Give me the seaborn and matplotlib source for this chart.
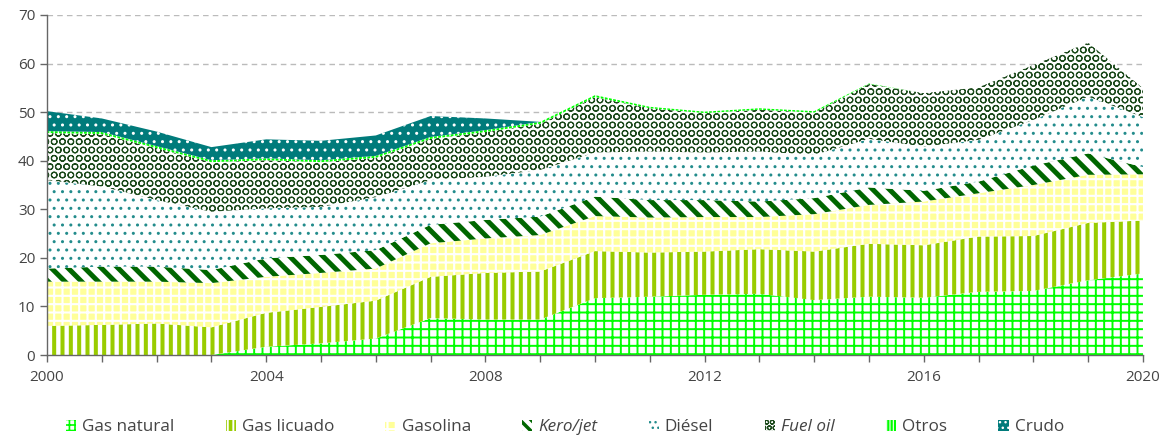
"""
Consumo por producto, 2000-2020: stacked area chart with pattern fills.
"""

import matplotlib.pyplot as plt
import numpy as np
import pandas as pd
import seaborn as sns
from matplotlib.ticker import MultipleLocator

years = list(range(2000, 2021))

gas_natural = [0.0, 0.0, 0.0, 0.0, 1.7, 2.4, 3.4, 7.6, 7.3, 7.3, 11.7,
               12.0, 12.4, 12.6, 11.3, 12.0, 11.8, 13.0, 13.2, 15.4, 16.8]
gas_licuado = [6.0, 6.2, 6.5, 5.7, 7.0, 7.5, 7.8, 8.5, 9.6, 9.9, 9.7,
               9.1, 8.9, 9.2, 10.0, 10.9, 10.8, 11.4, 11.3, 11.8, 10.9]
gasolina = [9.1, 8.9, 8.6, 9.1, 7.4, 7.0, 6.6, 6.9, 7.1, 7.5, 7.2,
            7.2, 7.1, 6.6, 7.7, 8.0, 9.0, 8.9, 10.5, 9.9, 9.5]
kero_jet = [2.7, 3.1, 3.1, 2.7, 3.8, 3.7, 3.8, 3.8, 3.8, 3.8, 4.0,
            3.6, 3.5, 3.2, 3.3, 3.6, 2.2, 2.4, 4.0, 4.4, 1.5]
diesel = [18.2, 16.5, 13.7, 12.0, 10.3, 9.9, 10.9, 9.2, 8.9, 9.6, 9.1,
          10.0, 9.8, 10.3, 8.9, 10.0, 9.1, 8.6, 9.4, 11.7, 10.3]
fuel_oil = [9.7, 10.8, 10.7, 10.2, 9.9, 9.2, 8.1, 8.5, 9.2, 9.5, 11.4,
            8.9, 8.1, 8.6, 8.7, 11.3, 11.0, 10.8, 11.3, 11.1, 5.9]
otros = [0.4, 0.4, 0.4, 0.4, 0.4, 0.4, 0.4, 0.4, 0.4, 0.4, 0.4,
         0.3, 0.3, 0.3, 0.3, 0.1, 0.0, 0.0, 0.0, 0.0, 0.0]
crudo = [4.1, 2.8, 3.0, 2.7, 3.9, 4.0, 4.2, 4.3, 2.4, 0.0, 0.0,
         0.0, 0.0, 0.0, 0.0, 0.0, 0.0, 0.0, 0.0, 0.0, 0.0]

labels = ["Gas natural", "Gas licuado", "Gasolina", "Kero/jet",
          "Diésel", "Fuel oil", "Otros", "Crudo"]

df = pd.DataFrame({
    "Gas natural": gas_natural,
    "Gas licuado": gas_licuado,
    "Gasolina": gasolina,
    "Kero/jet": kero_jet,
    "Diésel": diesel,
    "Fuel oil": fuel_oil,
    "Otros": otros,
    "Crudo": crudo,
}, index=years)

# face colour, hatch colour, hatch, hatch width, legend hatch, legend width
styles = {
    "Gas natural": ("white", "#00FF00", "++", 1.4, "+++", 1.2),
    "Gas licuado": ("white", "#99CC00", "||", 2.9, "|||", 2.6),
    "Gasolina": ("#FFFF99", "white", "++", 1.5, "++", 1.6),
    "Kero/jet": ("white", "#006600", "\\\\", 3.6, "\\\\\\", 2.5),
    "Diésel": ("white", "#238C8C", "..", 1.0, "...", 1.0),
    "Fuel oil": ("white", "#1C4A1C", "OO", 0.8, "OOO", 0.8),
    "Otros": ("white", "#00FF00", "||||", 2.0, "|||||", 1.6),
    "Crudo": ("#007B7B", "white", "..", 1.0, "...", 1.0),
}

sns.set_theme(style="white")
plt.rcParams["font.family"] = ["Open Sans", "DejaVu Sans"]

fig, ax = plt.subplots(figsize=(11.67, 4.41), dpi=100)
fig.subplots_adjust(left=0.0403, right=0.9794, top=0.966, bottom=0.195)

top = df.cumsum(axis=1)
handles = []
for name in labels:
    face, hcol, hatch, hlw = styles[name][:4]
    plt.rcParams["hatch.linewidth"] = hlw
    lower = top[name] - df[name]
    coll = ax.fill_between(df.index, lower, top[name], facecolor=face,
                           edgecolor=hcol, hatch=hatch, linewidth=0,
                           label=name)
    if hasattr(coll, "set_hatch_linewidth"):
        coll.set_hatch_linewidth(hlw)
    handles.append(coll)

ax.set_xlim(2000, 2020)
ax.set_ylim(0, 70)
ax.set_xticks(range(2000, 2021, 4))
ax.xaxis.set_minor_locator(MultipleLocator(1))
ax.set_yticks(range(0, 71, 10))
ax.yaxis.grid(True, linestyle=(0, (4, 3)), color="#BBBBBB", linewidth=1)
ax.set_axisbelow(True)

sns.despine(ax=ax)
for side in ("left", "bottom"):
    ax.spines[side].set_color("#666666")
    ax.spines[side].set_linewidth(1)

ax.tick_params(axis="both", which="both", direction="out", length=5,
               width=1, color="#666666", labelcolor="#444444",
               labelsize=11, bottom=True, left=True)
ax.tick_params(axis="x", pad=6)

leg = fig.legend(handles, labels, loc="center",
                 bbox_to_anchor=(0.484, 0.031), ncol=8, frameon=False,
                 handlelength=0.6, handleheight=0.6, handletextpad=0.35,
                 columnspacing=3.0, fontsize=12.3)
for name, patch, text in zip(labels, leg.legend_handles, leg.get_texts()):
    lhatch, llw = styles[name][4:]
    patch.set_hatch(lhatch)
    patch.set_linewidth(0)
    if hasattr(patch, "set_hatch_linewidth"):
        patch.set_hatch_linewidth(llw)
    text.set_color("#444444")
    if name in ("Kero/jet", "Fuel oil"):
        text.set_fontstyle("italic")

fig.savefig("out.png", dpi=100)
